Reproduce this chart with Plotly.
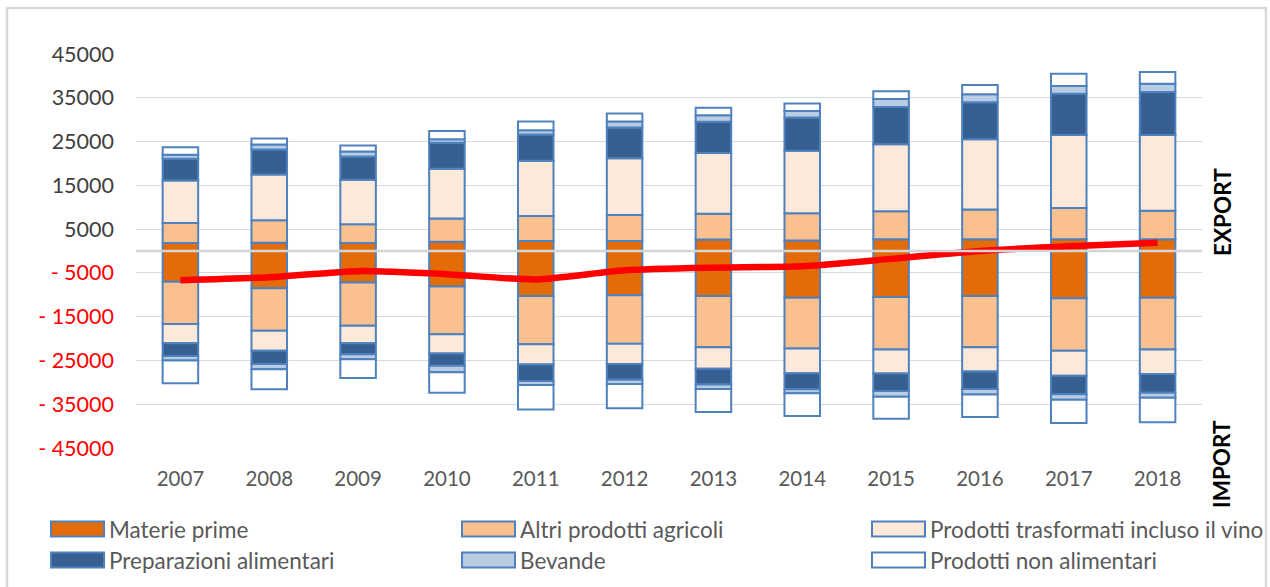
import plotly.graph_objects as go

# Years on the category axis
years = ["2007", "2008", "2009", "2010", "2011", "2012",
         "2013", "2014", "2015", "2016", "2017", "2018"]

# Export by product group (positive side)
exp_materie_prime = [1800, 1900, 1800, 2100, 2300, 2300, 2600, 2400, 2700, 2700, 2700, 2700]
exp_altri_agricoli = [4600, 5100, 4300, 5300, 5700, 5900, 5900, 6200, 6400, 6800, 7100, 6500]
exp_trasformati = [9700, 10500, 10200, 11400, 12600, 13000, 13900, 14300, 15300, 16000, 16700, 17300]
exp_preparazioni = [5000, 5700, 5300, 5900, 6000, 7000, 7100, 7600, 8500, 8500, 9400, 9800]
exp_bevande = [900, 1100, 1100, 800, 1000, 1400, 1500, 1500, 1800, 1800, 1800, 1900]
exp_non_alimentari = [1700, 1400, 1400, 1900, 2000, 1800, 1700, 1700, 1800, 2100, 2800, 2700]

# Import by product group (drawn below zero)
imp_materie_prime = [7000, 8500, 7200, 8100, 10300, 10100, 10300, 10700, 10500, 10300, 10800, 10700]
imp_altri_agricoli = [9700, 9700, 9900, 10900, 11000, 11100, 11700, 11600, 12000, 11700, 12000, 11800]
imp_trasformati = [4400, 4600, 4000, 4400, 4600, 4600, 4900, 5600, 5500, 5500, 5700, 5600]
imp_preparazioni = [2900, 3000, 2500, 2800, 3800, 3600, 3600, 3700, 4000, 4000, 4200, 4300]
imp_bevande = [1000, 1200, 1100, 1500, 900, 1000, 1000, 900, 1300, 1300, 1300, 1100]
imp_non_alimentari = [5200, 4600, 4300, 4700, 5600, 5500, 5300, 5200, 5000, 5100, 5300, 5600]

# Trade balance (export - import)
saldo = [-6700, -6000, -4600, -5300, -6500, -4400, -3800, -3500, -1800, 0, 1100, 1900]

# Y axis ticks
tick_values = [45000, 35000, 25000, 15000, 5000, -5000, -15000, -25000, -35000, -45000]

series_names = ["Materie prime", "Altri prodotti agricoli",
                "Prodotti trasformati incluso il vino", "Preparazioni alimentari",
                "Bevande", "Prodotti non alimentari"]
series_colors = ["#E36C09", "#FAC090", "#FDE9D9", "#366092", "#B8CCE4", "#FFFFFF"]
export_series = [exp_materie_prime, exp_altri_agricoli, exp_trasformati,
                 exp_preparazioni, exp_bevande, exp_non_alimentari]
import_series = [imp_materie_prime, imp_altri_agricoli, imp_trasformati,
                 imp_preparazioni, imp_bevande, imp_non_alimentari]

OUTLINE = "#4F81BD"
FONT = "Lato"

fig = go.Figure()

for name, color, exp_vals, imp_vals in zip(series_names, series_colors,
                                           export_series, import_series):
    fig.add_trace(go.Bar(
        x=years, y=exp_vals, name=name, width=0.4,
        marker=dict(color=color, line=dict(color=OUTLINE, width=2)),
        showlegend=False, hoverinfo="x+y+name",
    ))
    fig.add_trace(go.Bar(
        x=years, y=[-v for v in imp_vals], name=name, width=0.4,
        marker=dict(color=color, line=dict(color=OUTLINE, width=2)),
        showlegend=False, hoverinfo="x+y+name",
    ))

fig.add_trace(go.Scatter(
    x=years, y=saldo, mode="lines", name="Saldo",
    line=dict(color="#FF0000", width=6.5, shape="spline", smoothing=0.6),
    showlegend=False,
))


def tick_label(v):
    if v < 0:
        return f'<span style="color:#FF0000">- {abs(v)}</span>'
    return str(v)


# Plot area geometry (pixels) used for placing the legend and frame
W, H = 1270, 587
ML, MR, MT, MB = 136, 68, 54, 139
PW, PH = W - ML - MR, H - MT - MB


def px_x(px):
    return (px - ML) / PW


def px_y(py):
    return (H - MB - py) / PH


shapes = []
annotations = []

# zero line drawn over the bars
shapes.append(dict(type="line", xref="paper", yref="y", x0=0, x1=1, y0=0, y1=0,
                   line=dict(color="#D4D4D4", width=2.5), layer="above"))

# chart frame
shapes.append(dict(type="rect", xref="paper", yref="paper",
                   x0=px_x(7), x1=px_x(1266), y0=px_y(600), y1=px_y(8),
                   line=dict(color="#D9D9D9", width=2.5), fillcolor="rgba(0,0,0,0)",
                   layer="below"))

# legend: three columns, two rows
col_swatch = [51, 462, 872]
row_center = [529, 560]
for i, (name, color) in enumerate(zip(series_names, series_colors)):
    row, col = divmod(i, 3)
    sx = col_swatch[col]
    cy = row_center[row]
    shapes.append(dict(type="rect", xref="paper", yref="paper",
                       x0=px_x(sx), x1=px_x(sx + 53),
                       y0=px_y(cy + 7.5), y1=px_y(cy - 7.5),
                       fillcolor=color, line=dict(color=OUTLINE, width=2)))
    annotations.append(dict(xref="paper", yref="paper", x=px_x(sx + 56), y=px_y(cy),
                            text=name, showarrow=False, xanchor="left", yanchor="middle",
                            font=dict(family=FONT, size=22.5, color="#595959")))

# side labels
annotations.append(dict(xref="paper", yref="paper", x=px_x(1222), y=px_y(212),
                        text="<b>EXPORT</b>", textangle=-90, showarrow=False,
                        xanchor="center", yanchor="middle",
                        font=dict(family=FONT, size=22.5, color="#000000")))
annotations.append(dict(xref="paper", yref="paper", x=px_x(1222), y=px_y(464),
                        text="<b>IMPORT</b>", textangle=-90, showarrow=False,
                        xanchor="center", yanchor="middle",
                        font=dict(family=FONT, size=22.5, color="#000000")))

fig.update_layout(
    width=W, height=H,
    margin=dict(l=ML, r=MR, t=MT, b=MB),
    barmode="relative",
    paper_bgcolor="#FFFFFF", plot_bgcolor="#FFFFFF",
    font=dict(family=FONT),
    shapes=shapes, annotations=annotations,
    xaxis=dict(
        type="category", showgrid=False, zeroline=False, showline=False,
        ticks="", tickfont=dict(family=FONT, size=20.5, color="#595959"),
        ticklabelstandoff=16,
    ),
    yaxis=dict(
        range=[-45000, 45000], tickvals=tick_values,
        ticktext=[tick_label(v) for v in tick_values],
        showgrid=True, gridcolor="#D9D9D9", gridwidth=1,
        zeroline=False, showline=False, ticks="",
        tickfont=dict(family=FONT, size=21.5, color="#404040"),
        ticklabelstandoff=21,
    ),
)

fig.write_html("out.html")
